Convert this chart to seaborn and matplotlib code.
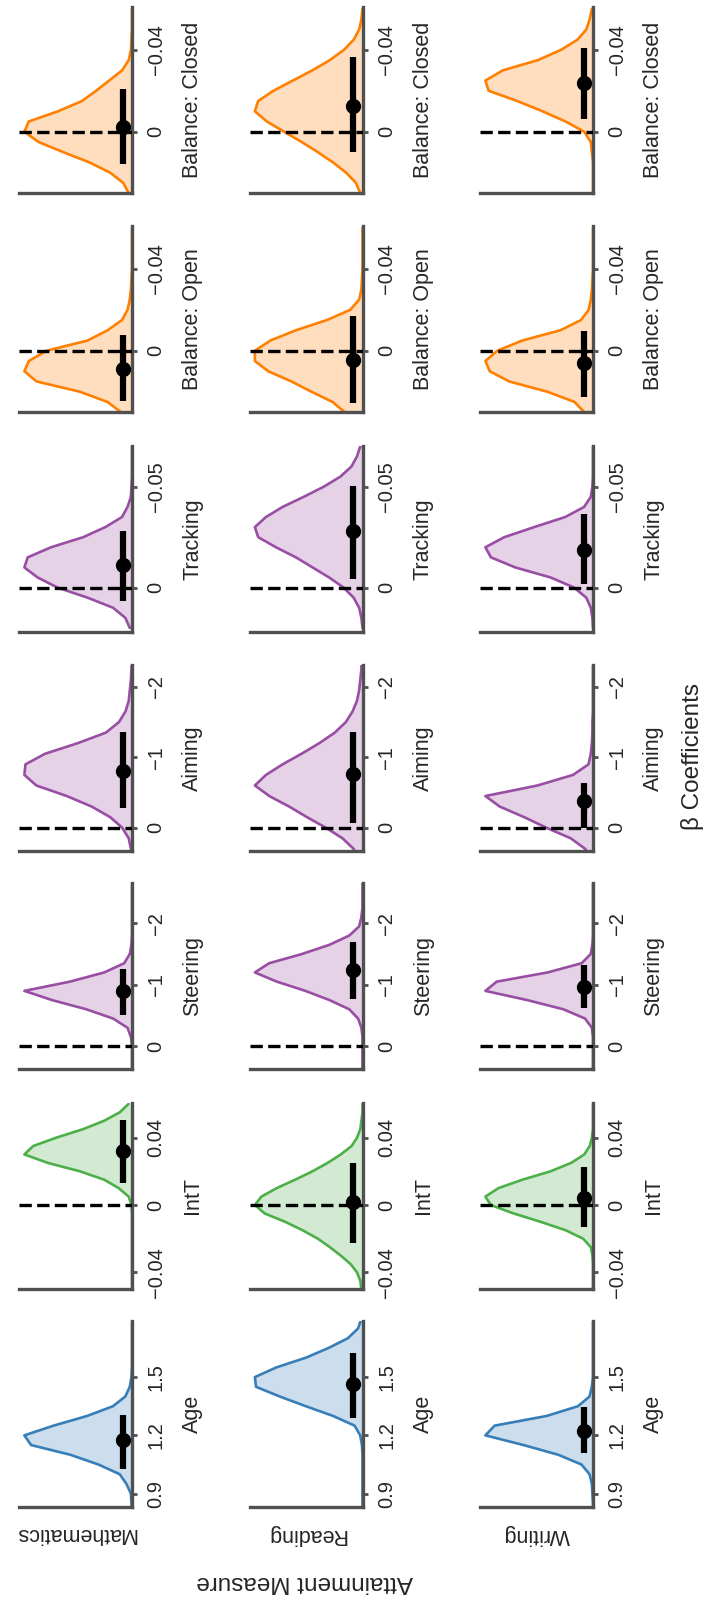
import matplotlib.pyplot as plt
import pandas as pd
import seaborn as sns

# predictors (bottom row to top row) and attainment measures (columns)
predictors = ['Age', 'IntT', 'Steering', 'Aiming', 'Tracking',
              'Balance: Open', 'Balance: Closed']
measures = ['Mathematics', 'Reading', 'Writing']

# value grids for the posterior densities, one per predictor
age_grid = [0.80, 0.85, 0.90, 0.95, 1.00, 1.05, 1.10, 1.15, 1.20, 1.25, 1.30,
            1.35, 1.40, 1.45, 1.50, 1.55, 1.60, 1.65, 1.70, 1.75, 1.80]
intt_grid = [-0.050, -0.045, -0.040, -0.035, -0.030, -0.025, -0.020, -0.015,
             -0.010, -0.005, 0.000, 0.005, 0.010, 0.015, 0.020, 0.025, 0.030,
             0.035, 0.040, 0.045, 0.050, 0.055, 0.060]
steer_grid = [-2.70, -2.55, -2.40, -2.25, -2.10, -1.95, -1.80, -1.65, -1.50,
              -1.35, -1.20, -1.05, -0.90, -0.75, -0.60, -0.45, -0.30, -0.15,
              0.00, 0.15, 0.30, 0.45]
aim_grid = [-2.40, -2.25, -2.10, -1.95, -1.80, -1.65, -1.50, -1.35, -1.20,
            -1.05, -0.90, -0.75, -0.60, -0.45, -0.30, -0.15, 0.00, 0.15,
            0.30, 0.45]
track_grid = [-0.070, -0.065, -0.060, -0.055, -0.050, -0.045, -0.040, -0.035,
              -0.030, -0.025, -0.020, -0.015, -0.010, -0.005, 0.000, 0.005,
              0.010, 0.015, 0.020]
bal_grid = [-0.060, -0.055, -0.050, -0.045, -0.040, -0.035, -0.030, -0.025,
            -0.020, -0.015, -0.010, -0.005, 0.000, 0.005, 0.010, 0.015,
            0.020, 0.025, 0.030]

# relative density heights
age_math = [0, 0.005, 0.01, 0.05, 0.11, 0.30, 0.55, 0.90, 0.96, 0.70, 0.40,
            0.17, 0.06, 0.02, 0.005, 0, 0, 0, 0, 0, 0]
age_read = [0, 0, 0, 0, 0, 0, 0, 0.005, 0.02, 0.07, 0.26, 0.50, 0.73, 0.94,
            0.95, 0.76, 0.50, 0.30, 0.13, 0.04, 0.01]
age_writ = [0, 0, 0.005, 0.01, 0.03, 0.10, 0.30, 0.60, 0.93, 0.85, 0.40, 0.13,
            0.03, 0.01, 0, 0, 0, 0, 0, 0, 0]
intt_math = [0, 0, 0, 0, 0, 0, 0, 0, 0, 0, 0.005, 0.03, 0.12, 0.25, 0.47,
             0.76, 0.97, 0.89, 0.68, 0.44, 0.25, 0.11, 0.03]
intt_read = [0.01, 0.02, 0.05, 0.11, 0.20, 0.30, 0.41, 0.55, 0.71, 0.90, 0.99,
             0.93, 0.79, 0.62, 0.46, 0.32, 0.20, 0.10, 0.05, 0.02, 0.01, 0, 0]
intt_writ = [0, 0, 0, 0, 0.005, 0.02, 0.09, 0.25, 0.48, 0.73, 0.94, 0.99,
             0.87, 0.65, 0.39, 0.20, 0.08, 0.03, 0.01, 0, 0, 0, 0]
steer_math = [0, 0, 0, 0, 0, 0, 0, 0.005, 0.02, 0.07, 0.25, 0.56, 0.97, 0.72,
              0.41, 0.17, 0.04, 0.01, 0, 0, 0, 0]
steer_read = [0, 0, 0, 0, 0.01, 0.03, 0.12, 0.30, 0.55, 0.85, 0.98, 0.78,
              0.52, 0.30, 0.12, 0.04, 0.01, 0, 0, 0, 0, 0]
steer_writ = [0, 0, 0, 0, 0, 0, 0, 0.005, 0.02, 0.10, 0.40, 0.85, 0.95, 0.58,
              0.26, 0.07, 0.01, 0, 0, 0, 0, 0]
aim_math = [0, 0.005, 0.01, 0.02, 0.03, 0.06, 0.12, 0.24, 0.50, 0.80, 0.98,
            0.99, 0.88, 0.60, 0.37, 0.20, 0.09, 0.03, 0.01, 0]
aim_read = [0.01, 0.01, 0.02, 0.03, 0.05, 0.09, 0.15, 0.25, 0.39, 0.55, 0.72,
            0.87, 0.97, 0.84, 0.66, 0.50, 0.33, 0.18, 0.08, 0.03]
aim_writ = [0, 0, 0, 0, 0, 0, 0.005, 0.005, 0.01, 0.02, 0.04, 0.18, 0.50,
            0.97, 0.84, 0.62, 0.42, 0.20, 0.07, 0.02]
track_math = [0, 0, 0, 0, 0.005, 0.01, 0.04, 0.09, 0.24, 0.44, 0.73, 0.94,
              0.97, 0.85, 0.67, 0.40, 0.17, 0.06, 0.02]
track_read = [0.02, 0.05, 0.10, 0.20, 0.35, 0.53, 0.72, 0.87, 0.97, 0.94,
              0.78, 0.60, 0.45, 0.30, 0.17, 0.08, 0.03, 0.01, 0]
track_writ = [0, 0, 0, 0, 0.005, 0.02, 0.08, 0.25, 0.53, 0.80, 0.97, 0.92,
              0.70, 0.38, 0.17, 0.06, 0.02, 0.005, 0]
open_math = [0, 0, 0, 0, 0, 0.005, 0.01, 0.02, 0.04, 0.09, 0.22, 0.40, 0.77,
             0.93, 0.97, 0.86, 0.47, 0.22, 0.10]
open_read = [0, 0, 0, 0, 0, 0.005, 0.01, 0.03, 0.11, 0.32, 0.60, 0.83, 0.97,
             0.97, 0.85, 0.64, 0.46, 0.27, 0.16]
open_writ = [0, 0, 0, 0, 0, 0.005, 0.01, 0.02, 0.04, 0.11, 0.30, 0.65, 0.88,
             0.99, 0.95, 0.77, 0.42, 0.17, 0.08]
closed_math = [0, 0, 0, 0.005, 0.01, 0.03, 0.09, 0.21, 0.33, 0.46, 0.68, 0.95,
               0.99, 0.86, 0.63, 0.39, 0.20, 0.08, 0.03]
closed_read = [0, 0.01, 0.03, 0.08, 0.17, 0.30, 0.46, 0.64, 0.82, 0.96, 0.99,
               0.88, 0.72, 0.56, 0.41, 0.27, 0.15, 0.06, 0.02]
closed_writ = [0.01, 0.03, 0.06, 0.14, 0.29, 0.50, 0.82, 0.98, 0.95, 0.69,
               0.46, 0.25, 0.08, 0.02, 0.01, 0, 0, 0, 0]

grids = [age_grid, intt_grid, steer_grid, aim_grid, track_grid, bal_grid,
         bal_grid]
heights = {
    'Mathematics': [age_math, intt_math, steer_math, aim_math, track_math,
                    open_math, closed_math],
    'Reading': [age_read, intt_read, steer_read, aim_read, track_read,
                open_read, closed_read],
    'Writing': [age_writ, intt_writ, steer_writ, aim_writ, track_writ,
                open_writ, closed_writ],
}

# posterior means and intervals, in predictor order
math_mean = [1.177, 0.0318, -0.894, -0.80, -0.0112, 0.0087, -0.0021]
math_lo = [1.028, 0.0129, -1.253, -1.357, -0.0283, -0.0077, -0.0207]
math_hi = [1.305, 0.0506, -0.512, -0.286, 0.0064, 0.0246, 0.0155]
read_mean = [1.462, 0.0016, -1.237, -0.76, -0.0279, 0.0046, -0.0126]
read_lo = [1.289, -0.0228, -1.689, -1.357, -0.0505, -0.0170, -0.0364]
read_hi = [1.626, 0.0248, -0.763, -0.071, -0.0045, 0.0256, 0.0098]
writ_mean = [1.223, 0.0042, -0.965, -0.38, -0.0187, 0.0062, -0.0237]
writ_lo = [1.111, -0.0133, -1.319, -0.63, -0.0363, -0.0098, -0.0411]
writ_hi = [1.344, 0.0224, -0.621, 0.0, -0.0020, 0.0226, -0.0062]
summary = {
    'Mathematics': (math_mean, math_lo, math_hi),
    'Reading': (read_mean, read_lo, read_hi),
    'Writing': (writ_mean, writ_lo, writ_hi),
}

# value axis ticks and limits (bottom, top) per predictor
ticks = [[0.9, 1.2, 1.5], [-0.04, 0, 0.04], [0, -1, -2], [0, -1, -2],
         [0, -0.05], [0, -0.04], [0, -0.04]]
tick_labels = [['0.9', '1.2', '1.5'], ['\u22120.04', '0', '0.04'],
               ['0', '\u22121', '\u22122'], ['0', '\u22121', '\u22122'],
               ['0', '\u22120.05'], ['0', '\u22120.04'], ['0', '\u22120.04']]
limits = [(0.831, 1.789), (-0.0498, 0.0605), (0.37, -2.654), (0.33, -2.31),
          (0.022, -0.0702), (0.0299, -0.0609), (0.0299, -0.0609)]

set1 = sns.color_palette('Set1')
colors = [set1[1], set1[2], set1[3], set1[3], set1[3], set1[4], set1[4]]

sns.set_style('white')
plt.rcParams['font.family'] = ['Liberation Sans', 'DejaVu Sans']

W, H = 706, 1603
fig = plt.figure(figsize=(W / 100, H / 100), dpi=100)

col_left = [19, 249.5, 480]
row_top = [1321, 1103, 883, 665, 446, 226, 7]  # Age ... Balance: Closed
pw, ph = 113, 186
spine_col = '#505050'

for c, meas in enumerate(measures):
    means, los, his = summary[meas]
    for p, pred in enumerate(predictors):
        ax = fig.add_axes([col_left[c] / W, 1 - (row_top[p] + ph) / H,
                           pw / W, ph / H])
        df = pd.DataFrame({'value': grids[p], 'density': heights[meas][p]})
        ax.fill_betweenx(df['value'], 0, df['density'], color=colors[p],
                         alpha=0.25, lw=0)
        sns.lineplot(data=df, x='density', y='value', orient='y',
                     estimator=None, color=colors[p], lw=1.9, ax=ax,
                     solid_joinstyle='round', solid_capstyle='round')
        ax.axhline(0, color='black', ls='--', lw=2.4, zorder=3)

        # posterior mean and interval near the baseline
        tr = ax.get_yaxis_transform()
        ax.plot([0.916, 0.916], [los[p], his[p]], color='black', lw=4.5,
                solid_capstyle='butt', transform=tr, zorder=4)
        ax.plot([0.916], [means[p]], 'o', color='black', ms=10,
                transform=tr, zorder=5)

        ax.set_xlim(df['density'].max() * 1.05, 0)
        ax.set_ylim(*limits[p])
        ax.set_xticks([])
        ax.set_xlabel('')
        ax.yaxis.tick_right()
        ax.set_yticks(ticks[p], labels=tick_labels[p], rotation=90,
                      va='center', fontsize=14.5)
        ax.tick_params(axis='y', right=True, left=False, length=3.5,
                       width=2, color=spine_col, pad=7)
        ax.yaxis.set_label_position('right')
        ax.set_ylabel(pred, fontsize=15.5, rotation=90, labelpad=12)

        for s in ['top', 'left']:
            ax.spines[s].set_visible(False)
        for s in ['right', 'bottom']:
            ax.spines[s].set_linewidth(2.4)
            ax.spines[s].set_color(spine_col)

    fig.text((col_left[c] + pw / 2) / W, 1 - 1534 / H, meas, rotation=180,
             ha='center', va='center', fontsize=15.5)

fig.text(305 / W, 1 - 1582 / H, 'Attainment Measure', rotation=180,
         ha='center', va='center', fontsize=17.5)
fig.text(692 / W, 1 - 756 / H, '\u03b2 Coefficients', rotation=90,
         ha='center', va='center', fontsize=17.5)

fig.savefig('out.png', dpi=100)
plt.close()
